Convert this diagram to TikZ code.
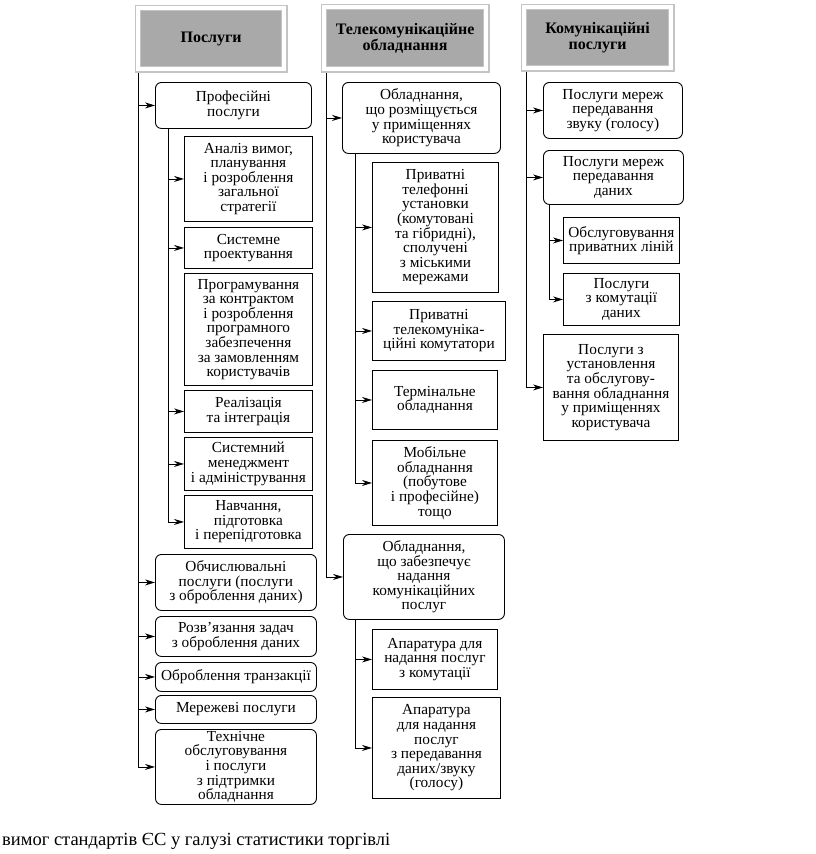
\documentclass[tikz,border=0pt]{standalone}
\usepackage{fontspec}
\setmainfont{Liberation Serif}
\usepackage{tikz}
\usetikzlibrary{arrows.meta}
\definecolor{headgray}{HTML}{A9A9A9}
\definecolor{framegray}{HTML}{C4C4C4}

\begin{document}
\begin{tikzpicture}[x=1pt,y=-1pt,
      every node/.style={font=\fontsize{15.3}{14.6}\selectfont,inner sep=1pt},
      dims/.style 2 args={minimum width=#1pt,minimum height=#2pt},
      headbox/.style={draw=framegray,double=white,double distance=4pt,line width=1.2pt,fill=headgray,anchor=north west,align=center,font=\fontsize{16}{15.5}\selectfont\bfseries},
      roundbox/.style={draw,rounded corners=6pt,line width=.9pt,anchor=north west,align=center},
      plainbox/.style={draw,line width=.9pt,anchor=north west,align=center},
      arrow/.style={-{Stealth[length=10pt,width=6pt]},line width=.9pt}]
      \useasboundingbox (0,0) rectangle (816,854);
      % headers
      \node[headbox,dims={146.6}{61.6}] (serv) at (137.2,7.2) {Послуги};
      \node[headbox,dims={162.6}{62.6}] (equip) at (323.2,6.2) {Телекомунікаційне\\обладнання};
      \node[headbox,dims={147.6}{61.6}] (comm) at (523.2,6.2) {Комунікаційні\\послуги};
      % services
      \node[roundbox,dims={156}{46}] (prof) at (155,82) {Професійні\\послуги};
      \node[plainbox,dims={128}{85}] (analysis) at (184,136) {Аналіз вимог,\\планування\\і розроблення\\загальної\\стратегії};
      \node[plainbox,dims={128}{41}] (sysdesign) at (184,227) {Системне\\проектування};
      \node[plainbox,dims={128}{112}] (contract) at (184,273) {Програмування\\за контрактом\\і розроблення\\програмного\\забезпечення\\за замовленням\\користувачів};
      \node[plainbox,dims={128}{42}] (integr) at (184,390) {Реалізація\\та інтеграція};
      \node[plainbox,dims={128}{53}] (sysadmin) at (184,437) {Системний\\менеджмент\\і адміністрування};
      \node[plainbox,dims={128}{53}] (training) at (184,495) {Навчання,\\підготовка\\і перепідготовка};
      \node[roundbox,dims={161}{56}] (computing) at (155,554) {Обчислювальні\\послуги (послуги\\з оброблення даних)};
      \node[roundbox,dims={161}{40}] (tasks) at (155,616) {Розв’язання задач\\з оброблення даних};
      \node[roundbox,dims={161}{29}] (transact) at (155,662) {Оброблення транзакції};
      \node[roundbox,dims={161}{28}] (network) at (155,695) {Мережеві послуги};
      \node[roundbox,dims={161}{75}] (support) at (155,729) {Технічне\\обслуговування\\і послуги\\з підтримки\\обладнання};
      % equipment
      \node[roundbox,dims={158}{71}] (atuser) at (342,82) {Обладнання,\\що розміщується\\у приміщеннях\\користувача};
      \node[plainbox,dims={126}{130}] (pbx) at (372,162) {Приватні\\телефонні\\установки\\(комутовані\\та гібридні),\\сполучені\\з міськими\\мережами};
      \node[plainbox,dims={133}{59}] (switches) at (372,301) {Приватні\\телекомуніка-\\ційні комутатори};
      \node[plainbox,dims={125}{59}] (terminal) at (372,370) {Термінальне\\обладнання};
      \node[plainbox,dims={125}{85}] (mobile) at (372,440) {Мобільне\\обладнання\\(побутове\\і професійне)\\тощо};
      \node[roundbox,dims={161}{85}] (provider) at (343,534) {Обладнання,\\що забезпечує\\надання\\комунікаційних\\послуг};
      \node[plainbox,dims={125}{60}] (switchapp) at (372,629) {Апаратура для\\надання послуг\\з комутації};
      \node[plainbox,dims={128}{101}] (dataapp) at (372,697) {Апаратура\\для надання\\послуг\\з передавання\\даних/звуку\\(голосу)};
      % communication services
      \node[roundbox,dims={139}{56}] (voice) at (543,82) {Послуги мереж\\передавання\\звуку (голосу)};
      \node[roundbox,dims={140}{54}] (datanet) at (543,150) {Послуги мереж\\передавання\\даних};
      \node[plainbox,dims={116}{46}] (lines) at (563,217) {Обслуговування\\приватних ліній};
      \node[plainbox,dims={116}{52}] (dataswitch) at (563,273) {Послуги\\з комутації\\даних};
      \node[plainbox,dims={135}{106}] (install) at (543,334) {Послуги з\\установлення\\та обслугову-\\вання обладнання\\у приміщеннях\\користувача};
      \node[font=\fontsize{18.5}{20}\selectfont,anchor=base west,inner sep=0] (caption) at (2,845) {вимог стандартів ЄС у галузі статистики торгівлі};
      % trunks
      \coordinate (t1) at ([xshift=1pt,yshift=-3.2pt]serv.south west);
      \coordinate (t2) at ([xshift=3pt,yshift=-3.2pt]equip.south west);
      \coordinate (t3) at ([xshift=3pt,yshift=-3.2pt]comm.south west);
      \coordinate (s1) at ([xshift=13pt]prof.south west);
      \coordinate (s2) at ([xshift=13pt]atuser.south west);
      \coordinate (s3) at ([xshift=12pt]provider.south west);
      \coordinate (s4) at ([xshift=6pt]datanet.south west);
      \draw[arrow] (t1) |- (support.west);
      \foreach \b in {prof,computing,tasks,transact,network}
        \draw[arrow] (t1 |- \b.west) -- (\b.west);
      \draw[arrow] (s1) |- (training.west);
      \foreach \b in {analysis,sysdesign,integr,sysadmin}
        \draw[arrow] (s1 |- \b.west) -- (\b.west);
      \draw[arrow] (t2) |- (provider.west);
      \draw[arrow] (t2 |- atuser.west) -- (atuser.west);
      \draw[arrow] (s2) |- (mobile.west);
      \foreach \b in {pbx,switches,terminal}
        \draw[arrow] (s2 |- \b.west) -- (\b.west);
      \draw[arrow] (s3) |- (dataapp.west);
      \draw[arrow] (s3 |- switchapp.west) -- (switchapp.west);
      \draw[arrow] (t3) |- (install.west);
      \foreach \b in {voice,datanet}
        \draw[arrow] (t3 |- \b.west) -- (\b.west);
      \draw[arrow] (s4) |- (dataswitch.west);
      \draw[arrow] (s4 |- lines.west) -- (lines.west);
    \end{tikzpicture}
\end{document}
